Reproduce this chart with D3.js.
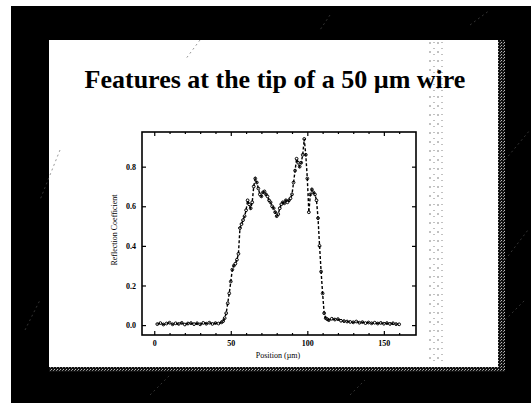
<!DOCTYPE html>
<html>
<head>
<meta charset="utf-8">
<script src="https://cdn.jsdelivr.net/npm/d3@7"></script>
<style>
  html, body { margin: 0; padding: 0; background: #fff; }
  svg { display: block; }
</style>
</head>
<body>
<div id="chart"></div>
<script>
// slide text
let titleText = "Features at the tip of a 50 \u00b5m wire";
let xLabel = "Position (\u00b5m)";
let yLabel = "Reflection Coefficient";

// ticks
let xTicks = [0, 50, 100, 150];
let xMinorTicks = [10, 20, 30, 40, 60, 70, 80, 90, 110, 120, 130, 140, 160];
let yTicks = [0.0, 0.2, 0.4, 0.6, 0.8];

// measured reflection coefficient vs. position (um)
let positions = [2, 4, 6, 8, 10, 12, 14, 16, 18, 20, 22, 24, 26, 28, 30, 32, 34, 36, 38, 40, 42, 44,
    45, 46, 47, 48, 49, 50, 51, 52, 53, 54, 55, 56, 57, 58, 59, 60, 61, 62, 63, 64, 65, 66, 67, 68, 69,
    70, 71, 72, 73, 74, 75, 76, 77, 78, 79, 80, 81, 82, 83, 84, 85, 86, 87, 88, 89, 90, 91, 92, 93, 94,
    95, 96, 97, 98, 99, 100, 101, 102, 103, 104, 105, 106, 107, 108, 109, 110, 111, 112, 113,
    114, 116, 118, 120, 122, 124, 126, 128, 130, 132, 134, 136, 138, 140, 142, 144, 146, 148, 150,
    152, 154, 156, 158, 160];
let reflection = [0.005, 0.010, 0.003, 0.008, 0.012, 0.004, 0.009, 0.006, 0.011, 0.003, 0.008, 0.010,
    0.005, 0.009, 0.004, 0.011, 0.007, 0.012, 0.006, 0.010, 0.008, 0.014,
    0.020, 0.035, 0.060, 0.110, 0.160, 0.220, 0.280, 0.300, 0.310, 0.330, 0.360, 0.490, 0.510, 0.530,
    0.550, 0.580, 0.630, 0.610, 0.590, 0.620, 0.700, 0.740, 0.720, 0.690, 0.660,
    0.650, 0.670, 0.675, 0.660, 0.650, 0.630, 0.620, 0.600, 0.590, 0.570, 0.550, 0.560, 0.590, 0.610,
    0.620, 0.615, 0.630, 0.620, 0.630, 0.640, 0.660, 0.720, 0.780, 0.840, 0.820,
    0.800, 0.820, 0.860, 0.940, 0.860, 0.740, 0.570, 0.660, 0.685, 0.670, 0.660, 0.630, 0.540, 0.400,
    0.270, 0.160, 0.060, 0.035, 0.030,
    0.025, 0.032, 0.028, 0.030, 0.022, 0.020, 0.018, 0.016, 0.014, 0.018, 0.012, 0.015, 0.010, 0.013,
    0.009, 0.012, 0.008, 0.011, 0.007, 0.010, 0.006, 0.009, 0.005, 0.004];

let width = 531, height = 403;

let svg = d3.select("#chart").append("svg")
    .attr("width", width)
    .attr("height", height);

// stipple texture for the scanner edges
let defs = svg.append("defs");
let pat = defs.append("pattern").attr("id", "stipple")
    .attr("width", 3).attr("height", 3).attr("patternUnits", "userSpaceOnUse");
pat.append("rect").attr("width", 3).attr("height", 3).style("fill", "#111");
pat.append("rect").attr("x", 0).attr("y", 0).attr("width", 1).attr("height", 1).style("fill", "#bbb");
pat.append("rect").attr("x", 2).attr("y", 1).attr("width", 1).attr("height", 1).style("fill", "#888");

// scanned slide: black surround, white page
svg.append("rect").attr("x", 11).attr("y", 6).attr("width", width - 11).attr("height", height - 6)
    .style("fill", "#000");
svg.append("rect").attr("x", 49).attr("y", 40).attr("width", 456).attr("height", 332)
    .style("fill", "url(#stipple)");
svg.append("rect").attr("x", 49).attr("y", 40).attr("width", 449).attr("height", 327)
    .style("fill", "#fff");

// faint scan streaks in the black border
{
    let streaks = [[60, 150, 40, 200], [200, 40, 185, 60], [330, 15, 320, 30], [505, 160, 530, 130],
        [505, 260, 528, 230], [505, 320, 525, 300], [150, 395, 170, 375], [350, 395, 365, 380],
        [25, 330, 40, 300], [470, 25, 490, 10]];
    streaks.forEach(function (s) {
        svg.append("line").attr("x1", s[0]).attr("y1", s[1]).attr("x2", s[2]).attr("y2", s[3])
            .style("stroke", "#555").style("stroke-width", 0.6).style("stroke-dasharray", "2,3");
    });
}

// dotted scanner strip on the right of the page
{
    let strip = svg.append("g");
    [430, 434, 438, 442].forEach(function (x, i) {
        strip.append("line").attr("x1", x).attr("y1", 42).attr("x2", x).attr("y2", 366)
            .style("stroke", "#666").style("stroke-width", 0.8)
            .style("stroke-dasharray", i % 2 ? "1,5" : "2,7");
    });
}

// title
svg.append("text")
    .attr("x", 275)
    .attr("y", 88)
    .attr("text-anchor", "middle")
    .style("font-family", "'Liberation Serif', 'Times New Roman', serif")
    .style("font-weight", "bold")
    .style("font-size", "26px")
    .style("fill", "#000")
    .text(titleText);

// plot area
let plotLeft = 142, plotRight = 416, plotTop = 132, plotBottom = 335;

let x = d3.scaleLinear().domain([-8, 171]).range([plotLeft, plotRight]);
let y = d3.scaleLinear().domain([-0.05, 0.975]).range([plotBottom, plotTop]);

let tickFont = "'Liberation Serif', 'Times New Roman', serif";

svg.append("g").attr("transform", "translate(0," + plotBottom + ")")
    .call(d3.axisBottom(x).tickValues(xTicks).tickFormat(d3.format("d")).tickSizeInner(-4).tickSizeOuter(0).tickPadding(5));
svg.append("g").attr("transform", "translate(0," + plotTop + ")")
    .call(d3.axisTop(x).tickValues(xTicks).tickFormat("").tickSizeInner(-4).tickSizeOuter(0));
svg.append("g").attr("transform", "translate(" + plotLeft + ",0)")
    .call(d3.axisLeft(y).tickValues(yTicks).tickFormat(d3.format(".1f")).tickSizeInner(-4).tickSizeOuter(0).tickPadding(6));
svg.append("g").attr("transform", "translate(" + plotRight + ",0)")
    .call(d3.axisRight(y).tickValues(yTicks).tickFormat("").tickSizeInner(-4).tickSizeOuter(0));

// minor ticks on x
svg.append("g").attr("transform", "translate(0," + plotBottom + ")")
    .call(d3.axisBottom(x).tickValues(xMinorTicks).tickFormat("").tickSizeInner(-2).tickSizeOuter(0));
svg.append("g").attr("transform", "translate(0," + plotTop + ")")
    .call(d3.axisTop(x).tickValues(xMinorTicks).tickFormat("").tickSizeInner(-2).tickSizeOuter(0));

svg.selectAll(".domain").remove();
svg.selectAll(".tick line").style("stroke", "#000").style("stroke-width", 1.2);
svg.selectAll(".tick text")
    .style("font-family", tickFont)
    .style("font-weight", "bold")
    .style("font-size", "8px")
    .style("fill", "#000");

// frame
svg.append("rect")
    .attr("x", plotLeft).attr("y", plotTop)
    .attr("width", plotRight - plotLeft).attr("height", plotBottom - plotTop)
    .style("fill", "none").style("stroke", "#000").style("stroke-width", 1.6);

// axis titles
svg.append("text")
    .attr("x", 278).attr("y", 358)
    .attr("text-anchor", "middle")
    .style("font-family", tickFont).style("font-size", "8px").style("fill", "#000")
    .text(xLabel);
svg.append("text")
    .attr("transform", "translate(117," + 230 + ") rotate(-90)")
    .attr("text-anchor", "middle")
    .style("font-family", tickFont).style("font-size", "8px").style("fill", "#000")
    .text(yLabel);

// data: dashed line with small open markers
let pts = positions.map(function (p, i) { return [p, reflection[i]]; });

svg.append("path")
    .datum(pts)
    .attr("d", d3.line().x(function (d) { return x(d[0]); }).y(function (d) { return y(d[1]); }))
    .style("fill", "none")
    .style("stroke", "#000")
    .style("stroke-width", 1.4)
    .style("stroke-dasharray", "3,2");

svg.append("g").selectAll("circle")
    .data(pts)
    .enter().append("circle")
    .attr("cx", function (d) { return x(d[0]); })
    .attr("cy", function (d) { return y(d[1]); })
    .attr("r", 1.4)
    .style("fill", "none")
    .style("stroke", "#000")
    .style("stroke-width", 1);
</script>
</body>
</html>
